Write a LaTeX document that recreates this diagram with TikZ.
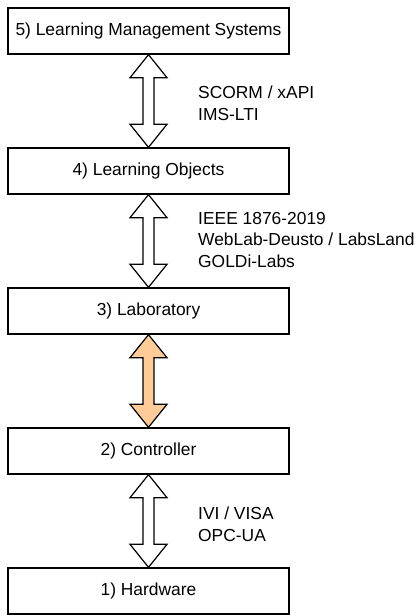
\documentclass[tikz,border=0pt]{standalone}
\usepackage{fontspec}
\setmainfont{Liberation Sans}
\usetikzlibrary{calc}
\tikzset{
  layerbox/.style={draw=black, line width=1.4pt, fill=white, minimum width=281pt, minimum height=46pt, inner sep=0pt, font=\fontsize{17.4}{21.75}\selectfont},
  lbl/.style={anchor=west, align=left, inner sep=0pt, font=\fontsize{17.4}{21.75}\selectfont},
  dblarrow/.style={draw=black, line width=1.2pt, fill=white, line join=miter},
  hot/.style={fill=orange!40!white}
}
\definecolor{peach}{HTML}{FFCC99}
\begin{document}
\begin{tikzpicture}[x=1pt,y=1pt]
\useasboundingbox (0,0) rectangle (417,-616);
\node[layerbox] (n5) at (148.5,-31) {5) Learning Management Systems};
\node[layerbox] (n4) at (148.5,-171) {4) Learning Objects};
\node[layerbox] (n3) at (148.5,-311) {3) Laboratory};
\node[layerbox] (n2) at (148.5,-451) {2) Controller};
\node[layerbox] (n1) at (148.5,-591) {1) Hardware};
\foreach \a/\b/\f in {n5/n4/white,n4/n3/white,n3/n2/peach,n2/n1/white}{
  \draw[dblarrow, fill=\f] (\a.south) -- ++(18.5,-23) -- ++(-13,0)
    -- ($(\b.north)+(5.5,23)$) -- ++(13,0) -- (\b.north) -- ++(-18.5,23)
    -- ++(13,0) -- ($(\a.south)+(-5.5,-23)$) -- ++(-13,0) -- cycle;
}
\node[lbl] (l1) at (198,-103) {SCORM / xAPI\\IMS-LTI};
\node[lbl] (l2) at (198,-240) {IEEE 1876-2019\\WebLab-Deusto / LabsLand\\GOLDi-Labs};
\node[lbl] (l3) at (198,-524) {IVI / VISA\\OPC-UA};
\end{tikzpicture}
\end{document}
